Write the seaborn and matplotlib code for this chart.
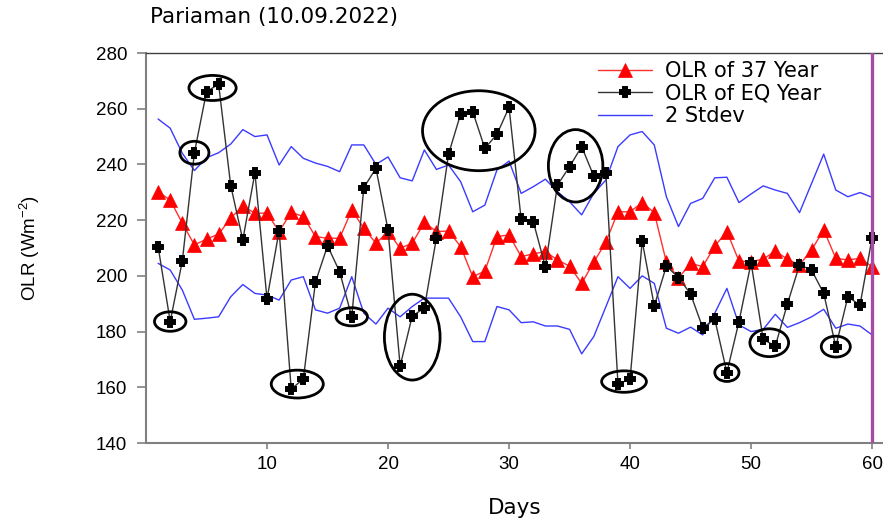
import numpy as np
import pandas as pd
import matplotlib
matplotlib.use("Agg")
import matplotlib.pyplot as plt
from matplotlib.patches import Ellipse
import seaborn as sns

# ---- data -------------------------------------------------------------
days = list(range(1, 61))

olr_37yr = [230.2, 227.2, 218.9, 211.1, 213.2, 215.0, 220.7, 225.1, 222.5, 222.5,
            215.9, 222.8, 221.3, 214.1, 213.5, 213.5, 223.6, 217.1, 211.7, 215.9,
            209.9, 211.7, 219.2, 215.9, 216.1, 210.5, 199.7, 201.7, 214.1, 214.7,
            206.9, 207.9, 208.7, 205.7, 203.5, 197.3, 204.9, 212.1, 223.0, 223.0,
            226.3, 222.7, 204.9, 199.2, 204.5, 203.3, 210.7, 215.9, 205.3, 205.1,
            206.0, 208.9, 206.0, 203.9, 209.3, 216.5, 206.3, 205.7, 206.3, 203.3]

olr_eq = [210.5, 183.6, 205.3, 244.2, 266.1, 268.8, 232.4, 212.9, 237.0, 191.7,
          216.2, 159.3, 163.0, 197.7, 210.8, 201.5, 185.3, 231.7, 238.6, 216.5,
          167.6, 185.6, 188.4, 213.7, 243.7, 258.1, 258.9, 245.8, 250.8, 260.5,
          220.3, 219.5, 203.3, 232.6, 239.2, 246.4, 235.8, 236.8, 161.2, 162.9,
          212.5, 189.2, 203.5, 199.4, 193.5, 181.4, 184.4, 165.3, 183.6, 204.7,
          177.2, 174.8, 189.9, 203.9, 202.1, 193.7, 174.6, 192.5, 189.5, 213.7]

stdev_upper = [256.3, 253.0, 244.0, 237.8, 242.4, 244.2, 247.3, 252.5, 250.0, 250.6,
               239.8, 246.4, 242.2, 240.5, 239.3, 237.4, 247.0, 247.0, 240.0, 242.7,
               235.2, 234.1, 245.2, 238.2, 239.8, 233.8, 223.0, 225.4, 238.0, 241.2,
               229.6, 232.0, 234.7, 230.2, 226.6, 221.9, 229.6, 234.4, 246.4, 250.6,
               251.8, 247.0, 228.4, 217.7, 226.0, 227.8, 235.2, 235.4, 226.3, 229.4,
               232.3, 230.8, 229.6, 222.7, 233.2, 243.7, 230.8, 228.4, 229.9, 228.2]

stdev_lower = [204.5, 202.1, 194.9, 184.4, 184.8, 185.3, 192.5, 196.9, 193.7, 193.1,
               191.3, 198.5, 199.7, 187.8, 186.6, 188.4, 199.7, 186.6, 182.7, 188.4,
               185.3, 189.0, 192.0, 192.0, 192.0, 185.3, 176.4, 176.4, 189.0, 187.8,
               183.2, 183.5, 182.0, 182.0, 180.8, 172.0, 178.2, 188.9, 199.7, 195.5,
               200.0, 197.3, 181.2, 179.4, 181.6, 178.8, 186.6, 195.5, 182.4, 180.0,
               180.8, 186.2, 181.5, 183.2, 185.3, 188.0, 181.2, 182.7, 182.0, 178.8]

series_labels = ["OLR of 37 Year", "OLR of EQ Year", "2 Stdev"]
title_text = "Pariaman (10.09.2022)"
x_ticks = [10, 20, 30, 40, 50, 60]
y_ticks = [140, 160, 180, 200, 220, 240, 260, 280]

# anomalous days highlighted with an ellipse: (days, width in days, height in Wm-2)
highlighted = [((2,), 2.6, 7.0), ((4,), 2.4, 8.2), ((5, 6), 3.9, 9.0),
               ((12, 13), 4.3, 10.0), ((17,), 2.6, 6.5), ((21, 22, 23), 4.6, 30.8),
               ((25, 26, 27, 28, 29, 30), 9.3, 28.7), ((34, 35, 36, 37), 4.5, 26.0),
               ((39, 40), 3.7, 7.7), ((48,), 2.0, 6.4), ((51, 52), 3.2, 10.0),
               ((57,), 2.4, 7.5)]

df = pd.DataFrame({"day": days, "olr37": olr_37yr, "olreq": olr_eq,
                   "up": stdev_upper, "lo": stdev_lower})

# ---- style ------------------------------------------------------------
sns.set_theme(style="ticks")
plt.rcParams["font.family"] = ["Liberation Sans", "DejaVu Sans"]
plt.rcParams["mathtext.default"] = "regular"
plt.rcParams["text.color"] = "black"
plt.rcParams["axes.labelcolor"] = "black"

fig = plt.figure(figsize=(8.83, 5.2), dpi=100)
ax = fig.add_axes([146 / 883, 77 / 520, 737 / 883, 390 / 520])

blue = "#3B3BFF"
sns.lineplot(data=df, x="day", y="up", ax=ax, color=blue, lw=1.0, zorder=2,
             label=series_labels[2])
sns.lineplot(data=df, x="day", y="lo", ax=ax, color=blue, lw=1.0, zorder=2)
sns.lineplot(data=df, x="day", y="olr37", ax=ax, color="#FF3030", lw=1.0,
             marker="^", markersize=9.5, markerfacecolor="red", markeredgecolor="red",
             markeredgewidth=0.5, zorder=3, label=series_labels[0])
sns.lineplot(data=df, x="day", y="olreq", ax=ax, color="#333333", lw=1.0,
             marker="P", markersize=7.5, markerfacecolor="black", markeredgecolor="black",
             markeredgewidth=1.4, zorder=4, label=series_labels[1])

# ellipses around anomalous days
eq = np.asarray(olr_eq)
for group, w, h in highlighted:
    vals = eq[[d - 1 for d in group]]
    cx = (min(group) + max(group)) / 2
    cy = (vals.min() + vals.max()) / 2
    ax.add_patch(Ellipse((cx, cy), w, h, fill=False, edgecolor="black",
                         lw=2.0, zorder=5))

# end-of-window marker
ax.axvline(60, color="#A64CA6", lw=2.4, zorder=6)

ax.set_xlim(0, 60.9)
ax.set_ylim(140, 280)
ax.set_xticks(x_ticks)
ax.set_yticks(y_ticks)
ax.set_xlabel("")
ax.set_ylabel("")

for side in ("left", "bottom"):
    ax.spines[side].set_color("#808080")
    ax.spines[side].set_linewidth(1.5)
ax.spines["top"].set_color("#404040")
ax.spines["top"].set_linewidth(1.0)
ax.spines["right"].set_visible(False)

ax.tick_params(axis="y", length=6.5, width=1.2, color="#808080", pad=7,
               labelsize=13.5, labelcolor="black")
ax.tick_params(axis="x", length=4.5, width=1.2, color="#808080", pad=5,
               labelsize=13.5, labelcolor="black")

handles, labels = ax.get_legend_handles_labels()
order = [labels.index(s) for s in series_labels]
ax.legend([handles[i] for i in order], [labels[i] for i in order],
          loc="upper left", bbox_to_anchor=(598 / 883, 1 - 61 / 520),
          bbox_transform=fig.transFigure, frameon=False, borderpad=0,
          borderaxespad=0, handlelength=2.6, handletextpad=0.6,
          labelspacing=0.12, prop={"family": "DejaVu Sans", "size": 15})

fig.text(150 / 883, 1 - 17 / 520, title_text, ha="left", va="center",
         family="DejaVu Sans", fontsize=15.5)
fig.text(515 / 883, 1 - 508 / 520, "Days", ha="center", va="center",
         family="DejaVu Sans", fontsize=15.5)
fig.text(30 / 883, 1 - 248 / 520, "OLR (Wm$^{-2}$)", ha="center", va="center",
         rotation=90, fontsize=13.5)

fig.savefig("out.png", dpi=100)
